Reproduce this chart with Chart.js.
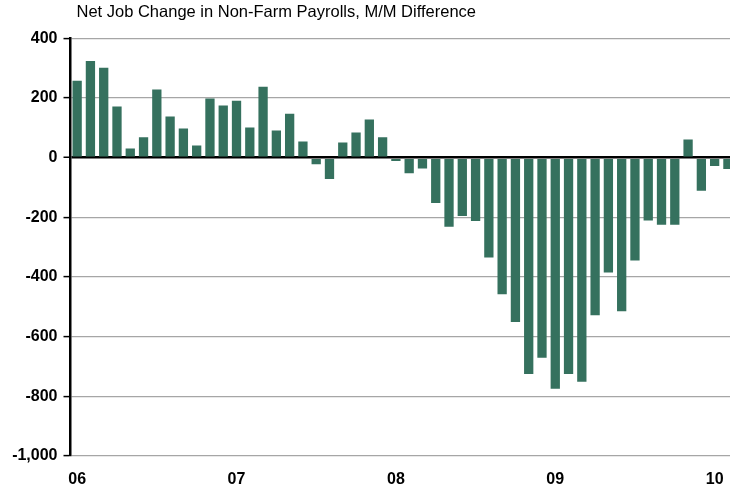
<!DOCTYPE html>
<html>
<head>
<meta charset="utf-8">
<script src="https://cdn.jsdelivr.net/npm/chart.js@4/dist/chart.umd.min.js"></script>
<style>
  html, body { margin: 0; padding: 0; background: #fff; overflow: hidden; }
  #wrap { position: absolute; left: 0; top: 0; width: 742px; height: 493px; }
</style>
</head>
<body>
<div id="wrap"><canvas id="c" width="742" height="493"></canvas></div>
<script>
// Months Jan 2006 .. Feb 2010
const months = [
  '2006-01','2006-02','2006-03','2006-04','2006-05','2006-06','2006-07','2006-08','2006-09','2006-10','2006-11','2006-12',
  '2007-01','2007-02','2007-03','2007-04','2007-05','2007-06','2007-07','2007-08','2007-09','2007-10','2007-11','2007-12',
  '2008-01','2008-02','2008-03','2008-04','2008-05','2008-06','2008-07','2008-08','2008-09','2008-10','2008-11','2008-12',
  '2009-01','2009-02','2009-03','2009-04','2009-05','2009-06','2009-07','2009-08','2009-09','2009-10','2009-11','2009-12',
  '2010-01','2010-02'
];
// Net job change (thousands), month over month
const jobChange = [
  258, 324, 301, 171, 31, 68, 228, 138, 98, 41, 198, 175,
  191, 101, 238, 91, 147, 54, -22, -72, 51, 84, 128, 68,
  -11, -52, -36, -152, -232, -196, -212, -335, -458, -551, -725, -671,
  -775, -725, -751, -528, -385, -515, -345, -211, -225, -225, 61, -111,
  -28, -38
];
const yearTicks = ['06', '07', '08', '09', '10'];
const titleText = 'Net Job Change in Non-Farm Payrolls, M/M Difference';

const FONT = '"Liberation Sans", Arial, Helvetica, sans-serif';

const titleShift = {
  id: 'titleShift',
  afterLayout(chart) {
    if (chart.titleBlock) {
      chart.titleBlock.left += 6;
      chart.titleBlock.right += 6;
    }
  }
};

new Chart(document.getElementById('c'), {
  type: 'bar',
  data: {
    labels: months,
    datasets: [{
      data: jobChange,
      backgroundColor: '#35715E',
      borderWidth: 0,
      barPercentage: 0.7,
      categoryPercentage: 1.0
    }]
  },
  plugins: [titleShift],
  options: {
    responsive: false,
    animation: false,
    events: [],
    layout: { padding: { left: 0, right: 3, top: 0, bottom: 0 } },
    plugins: {
      legend: { display: false },
      tooltip: { enabled: false },
      title: {
        display: true,
        text: titleText,
        align: 'start',
        fullSize: false,
        color: '#000',
        font: { family: FONT, size: 16.5, weight: 'normal' },
        padding: { top: 3, bottom: 15.5 }
      }
    },
    scales: {
      x: {
        type: 'category',
        offset: true,
        afterFit(scale) { scale.height = 37; },
        grid: { display: false, drawTicks: false },
        border: { display: false },
        ticks: {
          autoSkip: false,
          maxRotation: 0,
          minRotation: 0,
          padding: 14,
          color: '#000',
          font: { family: FONT, size: 16, weight: 'bold' },
          callback: function (v, i) {
            return i % 12 === 0 ? yearTicks[i / 12] : '';
          }
        }
      },
      y: {
        min: -1000,
        max: 400,
        afterFit(scale) { scale.width = 70.5; },
        grid: {
          color: (ctx) => (ctx.tick && ctx.tick.value === 0 ? '#000' : '#a6a6a6'),
          lineWidth: (ctx) => (ctx.tick && ctx.tick.value === 0 ? 2.5 : 1.2),
          tickColor: '#000',
          tickLength: 7,
          tickWidth: 1.5
        },
        border: { display: true, color: '#000', width: 2.5 },
        ticks: {
          stepSize: 200,
          padding: 6,
          color: '#000',
          font: { family: FONT, size: 16, weight: 'bold' },
          callback: (v) => v.toLocaleString('en-US')
        }
      }
    }
  }
});
</script>
</body>
</html>
